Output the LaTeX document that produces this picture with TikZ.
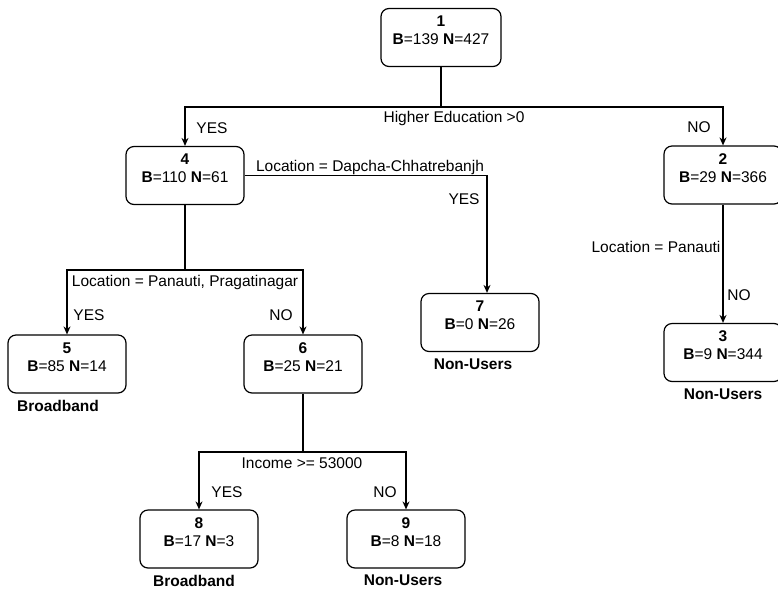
\documentclass[tikz,border=0pt]{standalone}
\usepackage{fontspec}
\setmainfont{Liberation Sans}
\usetikzlibrary{arrows.meta,positioning}

\begin{document}
\begin{tikzpicture}[x=1pt,y=-1pt,>={Stealth[length=8pt,width=7pt]},line width=1.2pt]
  \tikzstyle{treeNode}=[draw,rounded corners=8pt,minimum width=118pt,minimum height=58pt,align=center,text depth=14pt,font=\fontsize{15.5}{18}\selectfont]
  \tikzstyle{splitText}=[inner sep=0pt,font=\fontsize{15.5}{18}\selectfont]
  \tikzstyle{classText}=[inner sep=0pt,font=\bfseries\fontsize{15.5}{18}\selectfont]
  \useasboundingbox (0,0) rectangle (778,590);
  % nodes of the tree
  \node[treeNode,minimum width=120pt] (n1) at (441,37.5) {\textbf{1}\\\textbf{B}=139 \textbf{N}=427};
  \node[treeNode] (n4) at (185,175.5) {\textbf{4}\\\textbf{B}=110 \textbf{N}=61};
  \node[treeNode] (n2) at (723,175) {\textbf{2}\\\textbf{B}=29 \textbf{N}=366};
  \node[treeNode] (n7) at (480,322.5) {\textbf{7}\\\textbf{B}=0 \textbf{N}=26};
  \node[treeNode] (n3) at (723,352.5) {\textbf{3}\\\textbf{B}=9 \textbf{N}=344};
  \node[treeNode] (n5) at (67,364) {\textbf{5}\\\textbf{B}=85 \textbf{N}=14};
  \node[treeNode] (n6) at (303,364) {\textbf{6}\\\textbf{B}=25 \textbf{N}=21};
  \node[treeNode] (n8) at (199,539) {\textbf{8}\\\textbf{B}=17 \textbf{N}=3};
  \node[treeNode] (n9) at (406,539) {\textbf{9}\\\textbf{B}=8 \textbf{N}=18};
  % class labels
  \node[classText,below=6pt of n5,xshift=-9pt] (c5) {Broadband};
  \node[classText,below=6pt of n7,xshift=-7pt] (c7) {Non-Users};
  \node[classText,below=6pt of n3] (c3) {Non-Users};
  \node[classText,below=6pt of n8,xshift=-5pt] (c8) {Broadband};
  \node[classText,below=6pt of n9,xshift=-3pt] (c9) {Non-Users};
  % split points
  \coordinate (s1) at (441,107);
  \coordinate (s4) at (185,270);
  \coordinate (s6) at (303,452);
  % connectors
  \draw (n1) -- (s1);
  \draw[->] (s1) -| (n4);
  \draw[->] (s1) -| (n2);
  \draw[->] (n4.east) -| ([xshift=7pt]n7.north);
  \draw[->] (n2) -- (n3);
  \draw (n4) -- (s4);
  \draw[->] (s4) -| (n5);
  \draw[->] (s4) -| (n6);
  \draw (n6) -- (s6);
  \draw[->] (s6) -| (n8);
  \draw[->] (s6) -| (n9);
  % split texts
  \node[splitText] (t1) at (454,118) {Higher Education >0};
  \node[splitText] (y1) at (212,128) {YES};
  \node[splitText] (no1) at (699,127) {NO};
  \node[splitText] (t4) at (370,167) {Location = Dapcha-Chhatrebanjh};
  \node[splitText] (y7) at (464,199) {YES};
  \node[splitText] (t2) at (656,247) {Location = Panauti};
  \node[splitText] (no3) at (739,295) {NO};
  \node[splitText] (t5) at (185,282) {Location = Panauti, Pragatinagar};
  \node[splitText] (y5) at (89,315) {YES};
  \node[splitText] (no6) at (281,315) {NO};
  \node[splitText] (t6) at (302,463) {Income >= 53000};
  \node[splitText] (y8) at (227,492) {YES};
  \node[splitText] (no9) at (385,492) {NO};
\end{tikzpicture}
\end{document}
